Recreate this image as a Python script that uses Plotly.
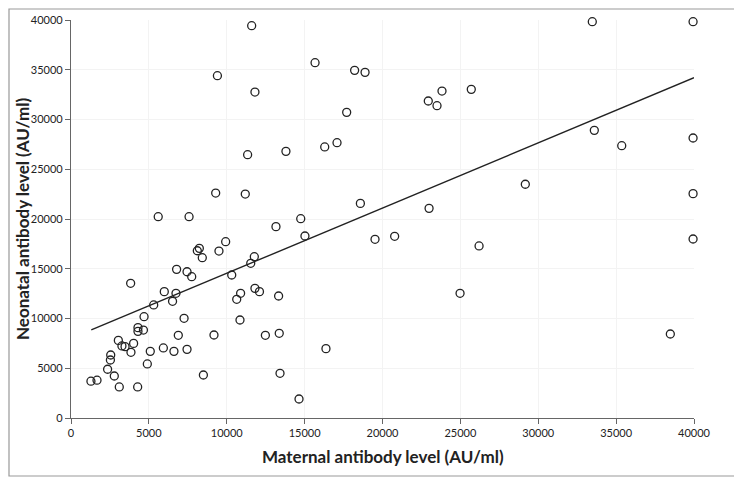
import plotly.graph_objects as go

maternal = [1280, 1670, 2350, 2530, 2550, 2780, 3040, 3100, 3270, 3470, 3830, 3850, 4020, 4280,
            4300, 4300, 4650, 4690, 4900, 5090, 5310, 5600, 5930, 5990, 6520, 6610, 6740, 6780,
            6890, 7260, 7450, 7450, 7580, 7750, 8110, 8240, 8430, 8500, 9180, 9290, 9400, 9500,
            9930, 10320, 10640, 10850, 10890, 11190, 11340, 11540, 11600, 11770, 11810, 11810,
            12100, 12480, 13160, 13330, 13370, 13420, 13800, 14640, 14750, 15020, 15670, 16290,
            16370, 17080, 17700, 18210, 18580, 18880, 19520, 20780, 22940, 22990, 23500, 23820,
            24980, 25700, 26200, 29170, 33470, 33600, 35360, 38480, 39940, 39940, 39940, 39940]
neonatal = [3700, 3800, 4900, 5830, 6330, 4220, 7800, 3120, 7240, 7170, 13540, 6600, 7500, 3120,
            9080, 8710, 8840, 10180, 5430, 6700, 11360, 20230, 7040, 12700, 11730, 6700, 12530, 14940,
            8310, 10020, 6900, 14700, 20230, 14200, 16810, 17050, 16110, 4320, 8340, 22610, 34400, 16780,
            17720, 14370, 11930, 9850, 12530, 22510, 26460, 15550, 39430, 16210, 13030, 32760,
            12700, 8310, 19230, 12260, 8510, 4490, 26800, 1910, 20030, 18290, 35710, 27240,
            6970, 27670, 30720, 34940, 21570, 34740, 17960, 18260, 31860, 21070, 31390, 32860,
            12530, 33030, 17290, 23490, 39830, 28910, 27370, 8440, 39830, 28140, 22550, 17990]

trend_x = [1300, 40000]
trend_y = [8850, 34200]

tick_vals = [0, 5000, 10000, 15000, 20000, 25000, 30000, 35000, 40000]
tick_text = ["0", "5000", "10000", "15000", "20000", "25000", "30000", "35000", "40000"]

# page body has an 8px default margin, so the figure is sized to fit the viewport
W, H = 734, 475
L, R, T, B = 63, 48, 12, 65
pw, ph = W - L - R, H - T - B
FONT = "Lato, Open Sans, sans-serif"

fig = go.Figure()
fig.add_trace(go.Scatter(
    x=maternal, y=neonatal, mode="markers",
    marker=dict(symbol="circle-open", size=8, color="#222", line=dict(width=1.3, color="#222")),
    showlegend=False, cliponaxis=False))
fig.add_trace(go.Scatter(
    x=trend_x, y=trend_y, mode="lines",
    line=dict(color="#222", width=1.4), showlegend=False))

axis_common = dict(
    range=[0, 40000], tickvals=tick_vals, ticktext=tick_text, automargin=False,
    showline=True, linecolor="#666", linewidth=1.2,
    ticks="outside", ticklen=5, tickcolor="#666",
    showgrid=True, gridcolor="#f3f3f3", gridwidth=1, zeroline=False,
    tickfont=dict(family=FONT, size=11, color="#222"),
)
fig.update_xaxes(**axis_common)
fig.update_yaxes(**axis_common)

# axis titles placed as annotations (figure-pixel positions converted to paper coords)
fig.add_annotation(text="<b>Maternal antibody level (AU/ml)</b>", xref="paper", yref="paper",
                   x=0.5, y=(H - B - 448) / ph, showarrow=False, xanchor="center", yanchor="middle",
                   font=dict(family=FONT, size=17, color="#222"))
fig.add_annotation(text="<b>Neonatal antibody level (AU/ml)</b>", xref="paper", yref="paper",
                   x=(14 - L) / pw, y=0.5, textangle=-90, showarrow=False,
                   xanchor="center", yanchor="middle",
                   font=dict(family=FONT, size=17, color="#222"))

# outer border of the chart area
bx0, bx1, by0, by1 = 1, 727, 1, 468
fig.add_shape(type="rect", xref="paper", yref="paper",
              x0=(bx0 - L) / pw, x1=(bx1 - L) / pw,
              y0=(H - B - by1) / ph, y1=(H - B - by0) / ph,
              line=dict(color="#999", width=1.2), fillcolor="rgba(0,0,0,0)", layer="below")

fig.update_layout(
    width=W, height=H,
    margin=dict(l=L, r=R, t=T, b=B),
    paper_bgcolor="white", plot_bgcolor="white",
)

fig.write_html("out.html")
